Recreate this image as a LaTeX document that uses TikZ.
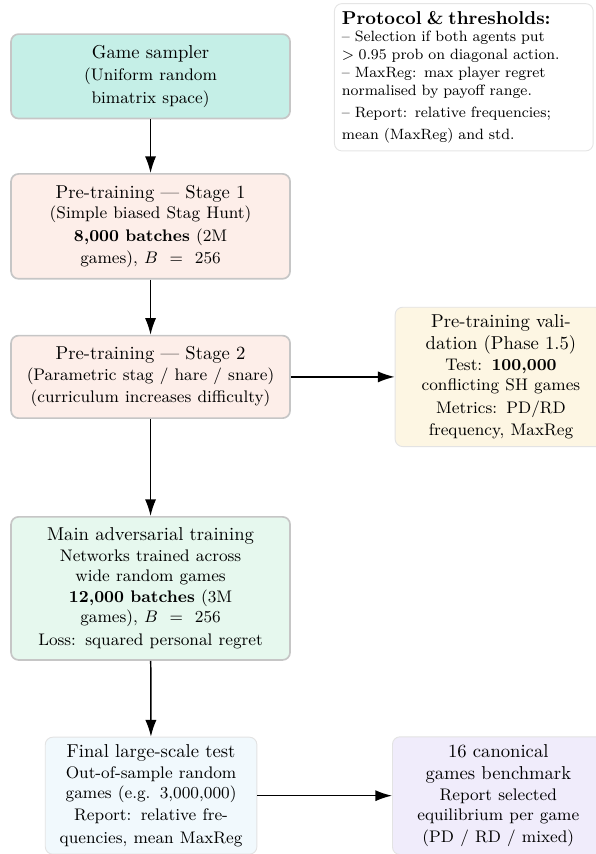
\documentclass[tikz,border=0pt]{standalone}
\usetikzlibrary{arrows.meta}
\definecolor{samplerfill}{HTML}{C5EFE7}
\definecolor{stagefill}{HTML}{FDEEE9}
\definecolor{mainfill}{HTML}{E6F8EE}
\definecolor{validfill}{HTML}{FDF6E3}
\definecolor{finalfill}{HTML}{F1F9FD}
\definecolor{canonfill}{HTML}{F0ECFB}
\tikzset{
  box/.style={draw=gray!45, line width=0.9pt, rounded corners=4pt, align=center,
    inner xsep=8pt, inner ysep=6pt, text width=4.7cm},
  sidebox/.style={box, draw=gray!22, line width=0.5pt, inner xsep=7pt, inner ysep=4pt, text width=3.5cm},
  flow/.style={-{Latex[length=9pt,width=6pt]}, line width=0.8pt},
}
\begin{document}
\begin{tikzpicture}
  \useasboundingbox (0,0) rectangle (11.23,16.11);
  \node[box,fill=samplerfill] (sampler) at (2.84,14.67)
    {Game sampler\\\small (Uniform random bimatrix space)};
  \node[box,fill=stagefill] (stage1) at (2.84,11.84)
    {Pre-training --- Stage 1\\\small (Simple biased Stag Hunt)\\\textbf{8,000 batches} (2M games), $B = 256$};
  \node[box,fill=stagefill] (stage2) at (2.84,9.00)
    {Pre-training --- Stage 2\\\small (Parametric stag / hare / snare)\\(curriculum increases difficulty)};
  \node[box,fill=mainfill] (main) at (2.84,5.01)
    {Main adversarial training\\\small Networks trained across wide random games\\\textbf{12,000 batches} (3M games), $B = 256$\\Loss: squared personal regret};
  \node[sidebox,fill=finalfill] (final) at (2.85,1.10)
    {Final large-scale test\\\small Out-of-sample random games (e.g. 3,000,000)\\Report: relative frequencies, mean MaxReg};
  \node[sidebox,fill=validfill] (valid) at (9.45,9.00)
    {Pre-training validation (Phase 1.5)\\\small Test: \textbf{100,000} conflicting SH games\\Metrics: PD/RD frequency, MaxReg};
  \node[sidebox,fill=canonfill] (canon) at (9.40,1.10)
    {16 canonical games benchmark\\\small Report selected equilibrium per game\\(PD / RD / mixed)};
  \node[draw=gray!20, line width=0.5pt, rounded corners=4pt, fill=white, anchor=north west,
    align=left, text width=4.6cm, inner sep=4pt, font=\footnotesize] (protocol) at (6.30,16.05)
    {{\normalsize\bfseries Protocol \& thresholds:}\\
     -- Selection if both agents put\\
     \mbox{$>0.95$} prob on diagonal action.\\
     -- MaxReg: max player regret\\
     normalised by payoff range.\\[2.5pt]
     -- Report: relative frequencies;\\[2.5pt]
     mean (MaxReg) and std.};
  \foreach \a/\b in {sampler/stage1,stage1/stage2,stage2/main,main/final,stage2/valid,final/canon}
    \draw[flow] (\a) -- (\b);
\end{tikzpicture}
\end{document}
